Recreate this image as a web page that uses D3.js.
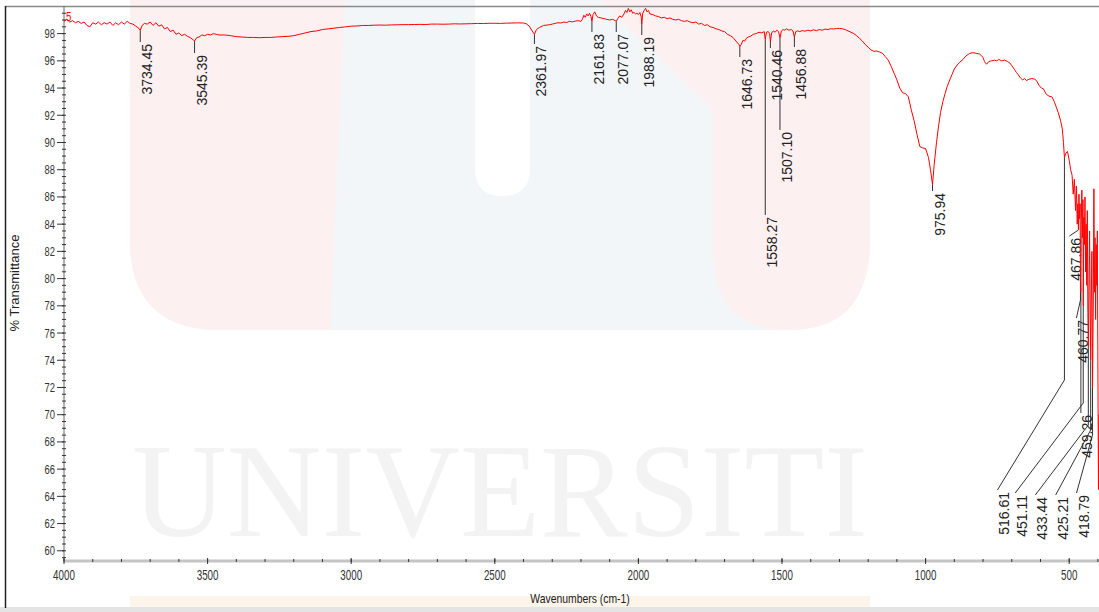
<!DOCTYPE html>
<html>
<head>
<meta charset="utf-8">
<script src="https://cdn.jsdelivr.net/npm/d3@7"></script>
<style>
  body { margin: 0; background: #fff; }
  svg { display: block; }
</style>
</head>
<body>
<svg id="chart" width="1099" height="612"></svg>
<script>
// FTIR spectrum: [wavenumber (cm-1), % transmittance]
const spectrum = [
  [4000,98.9],[3990,99.05],[3980,98.85],[3970,98.95],[3960,98.8],[3950,98.9],[3940,98.75],[3930,98.85],
  [3920,98.6],[3910,98.5],[3900,98.8],[3890,98.7],[3880,98.85],[3870,98.65],[3860,98.8],[3850,98.7],
  [3840,98.85],[3830,98.6],[3820,98.8],[3810,98.65],[3800,98.85],[3790,98.7],[3780,98.9],[3770,98.75],
  [3760,98.7],[3750,98.55],[3740,98.4],[3734.45,98.25],[3728,98.6],[3720,98.75],[3710,98.7],[3700,98.85],
  [3690,98.6],[3680,98.8],[3670,98.55],[3660,98.65],[3650,98.35],[3640,98.45],[3630,98.15],[3620,98.25],
  [3610,97.95],[3600,98.05],[3590,97.85],[3580,97.95],[3570,97.8],[3560,97.7],[3550,97.55],[3545.39,97.45],
  [3538,97.7],[3530,97.75],[3520,97.9],[3510,97.85],[3500,97.95],[3490,97.9],[3480,98.0],[3470,97.95],
  [3460,97.9],[3440,97.9],[3420,97.85],[3400,97.78],[3380,97.75],[3360,97.72],[3340,97.72],[3320,97.7],
  [3300,97.72],[3280,97.72],[3260,97.75],[3240,97.78],[3220,97.8],[3200,97.85],[3180,97.95],[3160,98.05],
  [3140,98.15],[3120,98.2],[3100,98.3],[3080,98.35],[3060,98.4],[3040,98.45],[3020,98.5],[3000,98.55],
  [2980,98.56],[2960,98.6],[2940,98.6],[2920,98.62],[2900,98.63],[2880,98.62],[2860,98.64],[2840,98.65],
  [2820,98.66],[2800,98.66],[2780,98.67],[2760,98.68],[2740,98.67],[2720,98.7],[2700,98.7],[2680,98.69],
  [2660,98.7],[2640,98.72],[2620,98.71],[2600,98.72],[2580,98.73],[2560,98.75],[2540,98.74],[2520,98.76],
  [2500,98.76],[2480,98.75],[2460,98.77],[2440,98.78],[2420,98.79],[2400,98.78],[2390,98.72],[2380,98.55],
  [2370,98.2],[2361.97,97.95],[2355,98.3],[2345,98.45],[2330,98.6],[2310,98.65],[2300,98.7],[2290,98.75],
  [2280,98.8],[2270,98.78],[2260,98.85],[2250,98.82],[2240,98.9],[2230,98.86],[2220,98.92],[2210,98.95],
  [2200,98.9],[2195,99.05],[2190,99.35],[2185,99.2],[2180,99.45],[2175,99.3],[2170,99.5],[2165,99.25],
  [2161.83,98.9],[2158,99.4],[2152,99.6],[2146,99.3],[2140,99.2],[2130,99.15],[2120,99.1],[2110,99.05],
  [2100,99.0],[2090,99.05],[2080,98.95],[2077.07,98.9],[2072,99.1],[2065,99.3],[2058,99.2],[2050,99.45],
  [2045,99.7],[2040,99.55],[2035,99.85],[2030,99.6],[2025,99.75],[2020,99.5],[2015,99.55],[2010,99.45],
  [2005,99.5],[2000,99.4],[1995,99.55],[1990,99.2],[1988.19,98.7],[1985,99.5],[1980,99.7],[1975,99.85],
  [1970,99.6],[1965,99.7],[1960,99.45],[1950,99.4],[1940,99.3],[1930,99.25],[1920,99.15],[1910,99.2],
  [1900,99.1],[1890,99.15],[1880,99.05],[1870,99.0],[1860,99.05],[1850,98.95],[1840,98.9],[1830,98.95],
  [1820,98.85],[1810,98.8],[1800,98.85],[1790,98.7],[1780,98.75],[1770,98.6],[1760,98.65],[1750,98.5],
  [1740,98.45],[1730,98.35],[1720,98.3],[1710,98.2],[1700,98.15],[1690,97.95],[1680,97.85],[1670,97.7],
  [1660,97.45],[1650,97.2],[1646.73,97.05],[1642,97.2],[1636,97.5],[1630,97.45],[1624,97.65],[1618,97.75],
  [1610,97.8],[1600,97.95],[1590,98.0],[1580,98.1],[1570,98.05],[1562,98.15],[1558.27,97.6],[1554,98.1],
  [1548,98.15],[1543,98.0],[1540.46,97.4],[1536,98.05],[1530,98.2],[1524,98.1],[1518,98.25],[1512,98.15],
  [1507.10,97.7],[1502,98.2],[1496,98.3],[1490,98.25],[1484,98.35],[1476,98.25],[1468,98.3],[1462,98.2],
  [1456.88,97.75],[1452,98.15],[1446,98.2],[1438,98.15],[1430,98.22],[1420,98.18],[1410,98.25],[1400,98.2],
  [1390,98.28],[1380,98.22],[1370,98.3],[1360,98.25],[1350,98.33],[1340,98.3],[1330,98.36],[1320,98.34],
  [1310,98.38],[1300,98.38],[1290,98.36],[1280,98.3],[1270,98.2],[1260,98.1],[1250,98.0],[1240,97.85],
  [1230,97.65],[1220,97.45],[1210,97.2],[1200,97.0],[1190,96.8],[1180,96.7],[1170,96.72],[1160,96.65],
  [1150,96.55],[1140,96.3],[1130,96.05],[1120,95.6],[1110,95.1],[1100,94.6],[1090,94.0],[1080,93.65],
  [1070,93.6],[1060,93.35],[1050,92.4],[1040,91.6],[1030,90.6],[1020,89.7],[1010,89.6],[1000,89.55],
  [990,88.9],[983,88.0],[975.94,86.9],[970,88.4],[962,90.0],[955,91.2],[948,92.2],[940,93.0],
  [932,93.6],[925,94.1],[916,94.6],[908,95.0],[900,95.4],[890,95.7],[881,95.9],[870,96.1],
  [860,96.35],[850,96.5],[846,96.55],[835,96.6],[824,96.55],[812,96.5],[800,96.25],[795,95.95],
  [788,95.75],[780,95.95],[770,96.0],[760,96.05],[753,96.0],[745,96.1],[735,96.0],[725,96.05],
  [715,95.95],[707,95.85],[700,95.65],[690,95.35],[684,95.15],[678,95.0],[670,94.75],[662,94.6],
  [655,94.7],[649,94.55],[640,94.65],[630,94.7],[620,94.65],[614,94.55],[605,94.2],[597,94.0],
  [590,93.95],[580,93.55],[570,93.4],[560,93.35],[552,93.0],[545,92.6],[538,92.2],[530,91.6],
  [524,91.0],[520,90.0],[516.61,88.9],[512,89.2],[506,89.35],[500,88.7],[495,88.0],[490,87.6],
  [486,86.2],[482,87.3],[478,85.0],[475,86.8],[472,84.0],[470,85.5],[467.86,83.6],[466,86.2],
  [464,84.4],[462,85.5],[460.77,80.0],[459.26,79.0],[458,84.0],[456,86.5],[454,83.0],[452,85.8],
  [451.11,78.0],[449,84.5],[447,82.5],[445,86.0],[443,80.5],[441,84.0],[439,79.5],[437,85.0],
  [435,77.5],[433.44,75.0],[431,80.0],[429,83.5],[427,78.0],[425.21,74.0],[423,79.0],[421,82.0],
  [418.79,72.0],[416,78.5],[414,86.6],[412,79.0],[410,83.0],[408,77.0],[406,82.5],[404,79.5],
  [402,83.5],[400,73.0],[398,64.5],[396,70.0],[394,64.4],[391,67.5],[388,64.8],[385,66.0]
];

// Labelled peak positions (cm-1)
const peakLabels = ["3734.45","3545.39","2361.97","2161.83","2077.07","1988.19","1646.73","1558.27",
  "1540.46","1507.10","1456.88","975.94","516.61","467.86","460.77","459.26","451.11","433.44",
  "425.21","418.79"];

// Axis ticks
const xMajorTicks = [4000,3500,3000,2500,2000,1500,1000,500];
const yMajorTicks = [60,62,64,66,68,70,72,74,76,78,80,82,84,86,88,90,92,94,96,98];

// Label placement: text top (px), horizontal shift of label (px), leader bend (px, null = straight)
const labelTop   = [44,55,46,34,34,37,59,217,50,132,49,193,492,238,320,415,495,497,497,495];
const labelShift = [0,0,0,0,0,0,0,0,0,0,0,0,-67,-9,-4,-1,-68,-53,-35,-16];
const labelBend  = [null,null,null,null,null,null,null,null,null,null,null,null,380,230,300,null,403,425,430,435];

const svg = d3.select("#chart");
const W = 1099, H = 612;

// faint background emblem
const bg = svg.append("g");
bg.append("path")
  .attr("d", "M130,0 H870 V240 Q870,330 780,330 H220 Q130,330 130,240 Z")
  .attr("fill", "#f3f6f9");
bg.append("path")
  .attr("d", "M130,0 H345 L330,330 H220 Q130,330 130,240 Z")
  .attr("fill", "#fdf0f0");
bg.append("path")
  .attr("d", "M600,0 H870 V240 Q870,330 790,330 Q713,330 713,250 V110 Z")
  .attr("fill", "#fdf0f0");
bg.append("path")
  .attr("d", "M475,0 H530 V168 Q530,196 502,196 Q475,196 475,168 Z")
  .attr("fill", "#ffffff");
bg.append("text").attr("x", 132).attr("y", 536)
  .attr("font-family", "Liberation Serif, DejaVu Serif, serif").attr("font-size", 134)
  .attr("textLength", 736).attr("lengthAdjust", "spacingAndGlyphs")
  .attr("fill", "#f3f3f3").text("UNIVERSITI");
bg.append("rect").attr("x", 130).attr("y", 596).attr("width", 740).attr("height", 12)
  .attr("fill", "#fdf4ea");

const x = d3.scaleLinear().domain([4000, 380]).range([64, 64 + 3620 * 0.2872]);
const y = d3.scaleLinear().domain([59.25, 100]).range([561, 6.4]);

// frame
svg.append("rect").attr("x", 0).attr("y", 607).attr("width", W).attr("height", 5).attr("fill", "#e4e4e4");
svg.append("line").attr("x1", 5).attr("x2", W).attr("y1", 6.5).attr("y2", 6.5)
  .attr("stroke", "#8a8a8a").attr("stroke-width", 1.5);
svg.append("line").attr("x1", 5.5).attr("x2", 5.5).attr("y1", 6).attr("y2", 608)
  .attr("stroke", "#222").attr("stroke-width", 1.5);

// y axis
const yAxisG = svg.append("g");
yAxisG.append("line").attr("x1", 64).attr("x2", 64).attr("y1", 6).attr("y2", 561)
  .attr("stroke", "#666").attr("stroke-width", 1);
const yMinor = d3.range(59.5, 100, 0.5);
yAxisG.selectAll("line.minor").data(yMinor).join("line").attr("class", "minor")
  .attr("x1", 62).attr("x2", 66).attr("y1", d => y(d)).attr("y2", d => y(d))
  .attr("stroke", "#333").attr("stroke-width", 1);
yAxisG.selectAll("line.major").data(yMajorTicks).join("line").attr("class", "major")
  .attr("x1", 57).attr("x2", 64).attr("y1", d => y(d)).attr("y2", d => y(d))
  .attr("stroke", "#333").attr("stroke-width", 1);
yAxisG.selectAll("text").data(yMajorTicks).join("text")
  .attr("transform", d => `translate(55,${y(d) + 4.5}) scale(0.72,1)`)
  .attr("text-anchor", "end")
  .attr("font-family", "Liberation Sans, Arial, sans-serif").attr("font-size", 13)
  .attr("fill", "#333").text(d => d);

// x axis
const xAxisG = svg.append("g");
xAxisG.append("line").attr("x1", 64).attr("x2", W).attr("y1", 561).attr("y2", 561)
  .attr("stroke", "#c4c4c4").attr("stroke-width", 3);
const xMinor = d3.range(4000, 380, -100);
xAxisG.selectAll("line.minor").data(xMinor).join("line").attr("class", "minor")
  .attr("x1", d => x(d)).attr("x2", d => x(d)).attr("y1", 559).attr("y2", 562)
  .attr("stroke", "#333").attr("stroke-width", 1);
xAxisG.selectAll("line.major").data(xMajorTicks).join("line").attr("class", "major")
  .attr("x1", d => x(d)).attr("x2", d => x(d)).attr("y1", 558).attr("y2", 564)
  .attr("stroke", "#333").attr("stroke-width", 1);
xAxisG.selectAll("text").data(xMajorTicks).join("text")
  .attr("transform", d => `translate(${x(d)},580) scale(0.7,1)`)
  .attr("text-anchor", "middle")
  .attr("font-family", "Liberation Sans, Arial, sans-serif").attr("font-size", 14)
  .attr("fill", "#333").text(d => d);

// axis titles
svg.append("text").attr("transform", "translate(580,603) scale(0.8,1)")
  .attr("text-anchor", "middle").attr("font-family", "Liberation Sans, Arial, sans-serif")
  .attr("font-size", 13).attr("fill", "#222").text("Wavenumbers (cm-1)");
svg.append("text").attr("transform", "translate(19,283) rotate(-90)")
  .attr("text-anchor", "middle").attr("font-family", "Liberation Sans, Arial, sans-serif")
  .attr("font-size", 13).attr("fill", "#222").text("% Transmittance");

// plot clip
svg.append("clipPath").attr("id", "plot-clip").append("rect")
  .attr("x", 64).attr("y", 7).attr("width", W - 64).attr("height", 554);

const plot = svg.append("g").attr("clip-path", "url(#plot-clip)");

// peak leaders and labels
const lookup = new Map(spectrum.map(d => [d[0].toFixed(2), d[1]]));
peakLabels.forEach((lab, i) => {
  const wn = +lab;
  const px = x(wn), py = y(lookup.get(wn.toFixed(2)));
  const top = labelTop[i];
  const ex = px + labelShift[i];
  let path = `M${px},${py}`;
  if (labelBend[i] !== null) path += `V${labelBend[i]}L${ex},${top - 2}`;
  else path += `V${top - 2}`;
  plot.append("path").attr("d", path).attr("fill", "none")
    .attr("stroke", "#333").attr("stroke-width", 1);
  plot.append("text").attr("transform", `translate(${ex + 12},${top}) rotate(-90)`)
    .attr("text-anchor", "end")
    .attr("font-family", "Liberation Sans, Arial, sans-serif").attr("font-size", 14)
    .attr("fill", "#222").text(lab);
});

// spectrum trace
const line = d3.line().x(d => x(d[0])).y(d => y(d[1]));
plot.append("path").datum(spectrum).attr("d", line)
  .attr("fill", "none").attr("stroke", "#ff0000").attr("stroke-width", 1);

// trace identifier
svg.append("text").attr("transform", "translate(66,21) scale(0.8,1)")
  .attr("font-family", "Liberation Sans, Arial, sans-serif").attr("font-size", 12)
  .attr("fill", "#ff0000").text("5");
</script>
</body>
</html>
